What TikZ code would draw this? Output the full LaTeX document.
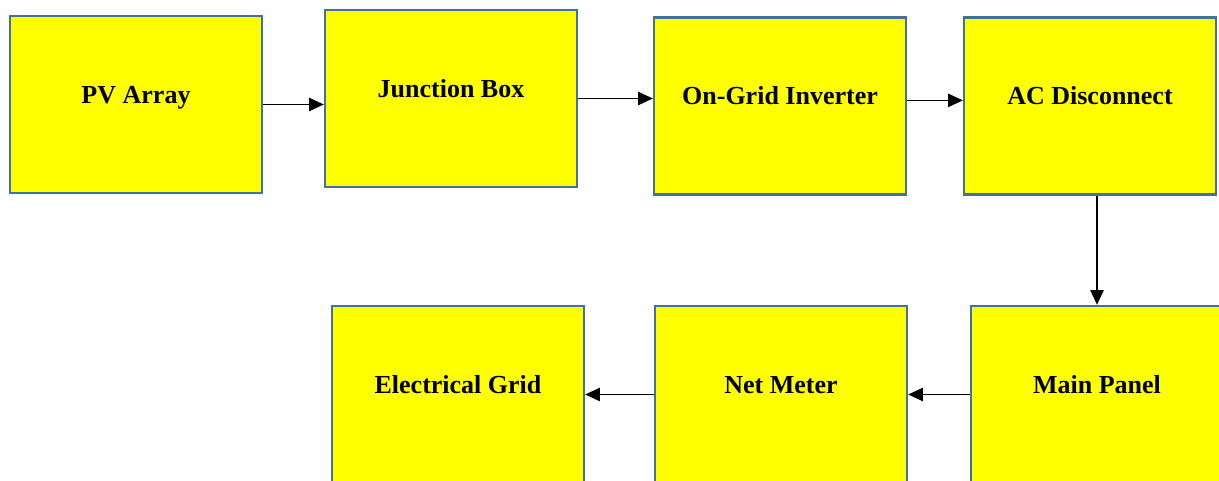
\documentclass[tikz,border=0pt]{standalone}
\usepackage{fontspec}
\setmainfont{Liberation Serif}
\definecolor{boxyellow}{RGB}{255,255,0}
\definecolor{boxblue}{RGB}{65,113,156}
\usetikzlibrary{arrows.meta,positioning}

\begin{document}
\begin{tikzpicture}[x=0.75pt, y=0.75pt,
    blk/.style={draw=boxblue, fill=boxyellow, line width=1.8pt,
                minimum width=189pt, minimum height=132.75pt,
                text height=14pt, text depth=16pt,
                font=\fontsize{19.5}{23}\selectfont\bfseries},
    arr/.style={-{Triangle[length=11pt,width=10pt]}, line width=0.8pt}
  ]
    \clip (0,0) rectangle (1219,481);

    % Top row
    \node[blk] (pv)  at (136, 376.5) {PV Array};
    \node[blk] (jb)  at (451, 382.5) {Junction Box};
    \node[blk] (inv) at (780, 375)   {On-Grid Inverter};
    \node[blk] (ac)  at (1090, 375)  {AC Disconnect};

    % Bottom row
    \node[blk] (mp) at (1097, 86.5) {Main Panel};
    \node[blk] (nm) at (781, 86.5)  {Net Meter};
    \node[blk] (eg) at (458, 86.5)  {Electrical Grid};

    % Connectors
    \draw[arr] (pv.east) -- (pv.east -| jb.west);
    \draw[arr] (jb.east) -- (jb.east -| inv.west);
    \draw[arr] ([yshift=4.2pt]inv.east) -- ([yshift=4.2pt]inv.east -| ac.west);
    \draw[arr] (ac.south -| mp.north) -- (mp.north);
    \draw[arr] (mp.west) -- (mp.west -| nm.east);
    \draw[arr] (nm.west) -- (nm.west -| eg.east);
  \end{tikzpicture}
\end{document}
